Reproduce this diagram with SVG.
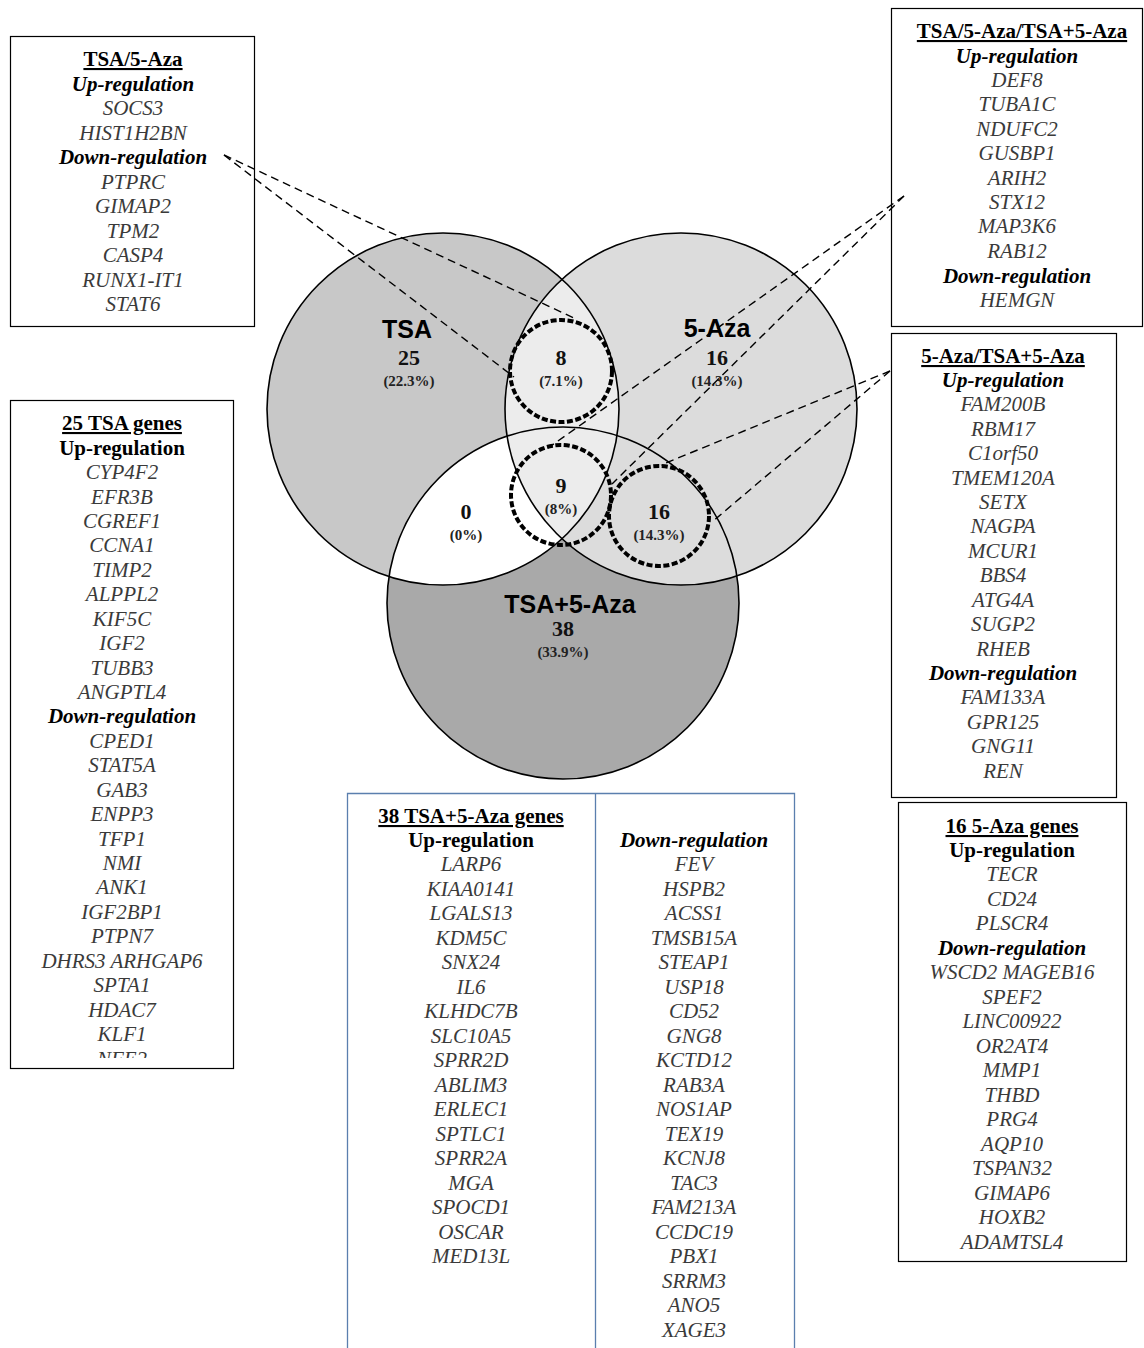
<svg xmlns="http://www.w3.org/2000/svg" width="1144" height="1348" viewBox="0 0 1144 1348">
<style>
.box{fill:#fff;stroke:#000;stroke-width:1.2}
.bbox{fill:none;stroke:#5b7fae;stroke-width:1.3}
.g{font-family:"Liberation Serif",serif;font-size:21px;font-style:italic;fill:#3a3a3a;text-anchor:middle}
.h{font-family:"Liberation Serif",serif;font-size:21px;font-style:italic;font-weight:bold;fill:#000;text-anchor:middle}
.hu{font-family:"Liberation Serif",serif;font-size:21px;font-weight:bold;fill:#000;text-anchor:middle}
.t{font-family:"Liberation Serif",serif;font-size:21px;font-weight:bold;fill:#000;text-anchor:middle;text-decoration:underline}
.vl{font-family:"Liberation Sans",Arial,sans-serif;font-size:25px;font-weight:bold;fill:#000;text-anchor:middle}
.vn{font-family:"Liberation Serif",serif;font-size:22px;font-weight:bold;fill:#111;text-anchor:middle}
.vp{font-family:"Liberation Serif",serif;font-size:15px;font-weight:bold;fill:#222;text-anchor:middle}
.ring{fill:none;stroke:#000;stroke-width:1.6}
.dc{fill:none;stroke:#000;stroke-width:4;stroke-dasharray:6 2.5}
.dl{stroke:#000;stroke-width:1.4;stroke-dasharray:8 5;fill:none}
</style>
<defs>
<clipPath id="cTSA"><circle cx="443" cy="409" r="176"/></clipPath>
<clipPath id="cAza"><circle cx="681" cy="409" r="176"/></clipPath>
<clipPath id="cNFE"><rect x="10" y="1040" width="224" height="18"/></clipPath>
</defs>
<rect width="1144" height="1348" fill="#fff"/>

<g id="venn">
<circle cx="443" cy="409" r="176" fill="#c8c8c8"/>
<circle cx="681" cy="409" r="176" fill="#dcdcdc"/>
<circle cx="563" cy="603" r="176" fill="#a9a9a9"/>
<circle cx="681" cy="409" r="176" fill="#ececec" clip-path="url(#cTSA)"/>
<circle cx="563" cy="603" r="176" fill="#ffffff" clip-path="url(#cTSA)"/>
<circle cx="563" cy="603" r="176" fill="#dcdcdc" clip-path="url(#cAza)"/>
<g clip-path="url(#cTSA)"><circle cx="563" cy="603" r="176" fill="#ececec" clip-path="url(#cAza)"/></g>
<circle class="ring" cx="443" cy="409" r="176"/>
<circle class="ring" cx="681" cy="409" r="176"/>
<circle class="ring" cx="563" cy="603" r="176"/>
</g>

<g id="set-TSA">
<text class="vl" x="407" y="338">TSA</text>
<text class="vn" x="409" y="365">25</text>
<text class="vp" x="409" y="386">(22.3%)</text>
</g>
<g id="set-5Aza">
<text class="vl" x="717" y="337">5-Aza</text>
<text class="vn" x="717" y="365">16</text>
<text class="vp" x="717" y="386">(14.3%)</text>
</g>
<g id="set-combo">
<text class="vl" x="570" y="613">TSA+5-Aza</text>
<text class="vn" x="563" y="636">38</text>
<text class="vp" x="563" y="657">(33.9%)</text>
</g>
<g id="region-TSA-5Aza">
<circle class="dc" cx="561" cy="371" r="51"/>
<text class="vn" x="561" y="365">8</text>
<text class="vp" x="561" y="386">(7.1%)</text>
</g>
<g id="region-all">
<circle class="dc" cx="561" cy="495" r="50"/>
<text class="vn" x="561" y="493">9</text>
<text class="vp" x="561" y="514">(8%)</text>
</g>
<g id="region-TSA-combo">
<text class="vn" x="466" y="519">0</text>
<text class="vp" x="466" y="540">(0%)</text>
</g>
<g id="region-5Aza-combo">
<circle class="dc" cx="659" cy="516" r="50"/>
<text class="vn" x="659" y="519">16</text>
<text class="vp" x="659" y="540">(14.3%)</text>
</g>

<g id="box-TSA-5Aza">
<rect class="box" x="10.5" y="36.5" width="244" height="290"/>
<text class="t" x="133" y="66">TSA/5-Aza</text>
<text class="h" x="133" y="91">Up-regulation</text>
<text class="g" x="133" y="115">SOCS3</text>
<text class="g" x="133" y="140">HIST1H2BN</text>
<text class="h" x="133" y="164">Down-regulation</text>
<text class="g" x="133" y="189">PTPRC</text>
<text class="g" x="133" y="213">GIMAP2</text>
<text class="g" x="133" y="238">TPM2</text>
<text class="g" x="133" y="262">CASP4</text>
<text class="g" x="133" y="287">RUNX1-IT1</text>
<text class="g" x="133" y="311">STAT6</text>
</g>

<g id="box-TSA-5Aza-combo">
<rect class="box" x="891.5" y="8.5" width="251" height="318"/>
<text class="t" x="1022" y="38">TSA/5-Aza/TSA+5-Aza</text>
<text class="h" x="1017" y="63">Up-regulation</text>
<text class="g" x="1017" y="87">DEF8</text>
<text class="g" x="1017" y="111">TUBA1C</text>
<text class="g" x="1017" y="136">NDUFC2</text>
<text class="g" x="1017" y="160">GUSBP1</text>
<text class="g" x="1017" y="185">ARIH2</text>
<text class="g" x="1017" y="209">STX12</text>
<text class="g" x="1017" y="233">MAP3K6</text>
<text class="g" x="1017" y="258">RAB12</text>
<text class="h" x="1017" y="283">Down-regulation</text>
<text class="g" x="1017" y="307">HEMGN</text>
</g>

<g id="box-5Aza-combo">
<rect class="box" x="891.5" y="333.5" width="225" height="464"/>
<text class="t" x="1003" y="363">5-Aza/TSA+5-Aza</text>
<text class="h" x="1003" y="387">Up-regulation</text>
<text class="g" x="1003" y="411">FAM200B</text>
<text class="g" x="1003" y="436">RBM17</text>
<text class="g" x="1003" y="460">C1orf50</text>
<text class="g" x="1003" y="485">TMEM120A</text>
<text class="g" x="1003" y="509">SETX</text>
<text class="g" x="1003" y="533">NAGPA</text>
<text class="g" x="1003" y="558">MCUR1</text>
<text class="g" x="1003" y="582">BBS4</text>
<text class="g" x="1003" y="607">ATG4A</text>
<text class="g" x="1003" y="631">SUGP2</text>
<text class="g" x="1003" y="656">RHEB</text>
<text class="h" x="1003" y="680">Down-regulation</text>
<text class="g" x="1003" y="704">FAM133A</text>
<text class="g" x="1003" y="729">GPR125</text>
<text class="g" x="1003" y="753">GNG11</text>
<text class="g" x="1003" y="778">REN</text>
</g>

<g id="box-TSA-genes">
<rect class="box" x="10.5" y="400.5" width="223" height="668"/>
<text class="t" x="122" y="430">25 TSA genes</text>
<text class="hu" x="122" y="455">Up-regulation</text>
<text class="g" x="122" y="479">CYP4F2</text>
<text class="g" x="122" y="504">EFR3B</text>
<text class="g" x="122" y="528">CGREF1</text>
<text class="g" x="122" y="552">CCNA1</text>
<text class="g" x="122" y="577">TIMP2</text>
<text class="g" x="122" y="601">ALPPL2</text>
<text class="g" x="122" y="626">KIF5C</text>
<text class="g" x="122" y="650">IGF2</text>
<text class="g" x="122" y="675">TUBB3</text>
<text class="g" x="122" y="699">ANGPTL4</text>
<text class="h" x="122" y="723">Down-regulation</text>
<text class="g" x="122" y="748">CPED1</text>
<text class="g" x="122" y="772">STAT5A</text>
<text class="g" x="122" y="797">GAB3</text>
<text class="g" x="122" y="821">ENPP3</text>
<text class="g" x="122" y="846">TFP1</text>
<text class="g" x="122" y="870">NMI</text>
<text class="g" x="122" y="894">ANK1</text>
<text class="g" x="122" y="919">IGF2BP1</text>
<text class="g" x="122" y="943">PTPN7</text>
<text class="g" x="122" y="968">DHRS3 ARHGAP6</text>
<text class="g" x="122" y="992">SPTA1</text>
<text class="g" x="122" y="1017">HDAC7</text>
<text class="g" x="122" y="1041">KLF1</text>
<text class="g" x="122" y="1066" clip-path="url(#cNFE)">NFE2</text>
</g>

<g id="box-combo-genes">
<path class="bbox" d="M347.5 1348 V793.5 H794.5 V1348 M595.5 793.5 V1348"/>
<text class="t" x="471" y="823">38 TSA+5-Aza genes</text>
<text class="hu" x="471" y="847">Up-regulation</text>
<text class="g" x="471" y="871">LARP6</text>
<text class="g" x="471" y="896">KIAA0141</text>
<text class="g" x="471" y="920">LGALS13</text>
<text class="g" x="471" y="945">KDM5C</text>
<text class="g" x="471" y="969">SNX24</text>
<text class="g" x="471" y="994">IL6</text>
<text class="g" x="471" y="1018">KLHDC7B</text>
<text class="g" x="471" y="1043">SLC10A5</text>
<text class="g" x="471" y="1067">SPRR2D</text>
<text class="g" x="471" y="1092">ABLIM3</text>
<text class="g" x="471" y="1116">ERLEC1</text>
<text class="g" x="471" y="1141">SPTLC1</text>
<text class="g" x="471" y="1165">SPRR2A</text>
<text class="g" x="471" y="1190">MGA</text>
<text class="g" x="471" y="1214">SPOCD1</text>
<text class="g" x="471" y="1239">OSCAR</text>
<text class="g" x="471" y="1263">MED13L</text>
<text class="h" x="694" y="847">Down-regulation</text>
<text class="g" x="694" y="871">FEV</text>
<text class="g" x="694" y="896">HSPB2</text>
<text class="g" x="694" y="920">ACSS1</text>
<text class="g" x="694" y="945">TMSB15A</text>
<text class="g" x="694" y="969">STEAP1</text>
<text class="g" x="694" y="994">USP18</text>
<text class="g" x="694" y="1018">CD52</text>
<text class="g" x="694" y="1043">GNG8</text>
<text class="g" x="694" y="1067">KCTD12</text>
<text class="g" x="694" y="1092">RAB3A</text>
<text class="g" x="694" y="1116">NOS1AP</text>
<text class="g" x="694" y="1141">TEX19</text>
<text class="g" x="694" y="1165">KCNJ8</text>
<text class="g" x="694" y="1190">TAC3</text>
<text class="g" x="694" y="1214">FAM213A</text>
<text class="g" x="694" y="1239">CCDC19</text>
<text class="g" x="694" y="1263">PBX1</text>
<text class="g" x="694" y="1288">SRRM3</text>
<text class="g" x="694" y="1312">ANO5</text>
<text class="g" x="694" y="1337">XAGE3</text>
</g>

<g id="box-5Aza-genes">
<rect class="box" x="898.5" y="802.5" width="228" height="459"/>
<text class="t" x="1012" y="833">16 5-Aza genes</text>
<text class="hu" x="1012" y="857">Up-regulation</text>
<text class="g" x="1012" y="881">TECR</text>
<text class="g" x="1012" y="906">CD24</text>
<text class="g" x="1012" y="930">PLSCR4</text>
<text class="h" x="1012" y="955">Down-regulation</text>
<text class="g" x="1012" y="979">WSCD2 MAGEB16</text>
<text class="g" x="1012" y="1004">SPEF2</text>
<text class="g" x="1012" y="1028">LINC00922</text>
<text class="g" x="1012" y="1053">OR2AT4</text>
<text class="g" x="1012" y="1077">MMP1</text>
<text class="g" x="1012" y="1102">THBD</text>
<text class="g" x="1012" y="1126">PRG4</text>
<text class="g" x="1012" y="1151">AQP10</text>
<text class="g" x="1012" y="1175">TSPAN32</text>
<text class="g" x="1012" y="1200">GIMAP6</text>
<text class="g" x="1012" y="1224">HOXB2</text>
<text class="g" x="1012" y="1249">ADAMTSL4</text>
</g>

<g id="connectors">
<line class="dl" x1="224" y1="155" x2="574" y2="318"/>
<line class="dl" x1="224" y1="155" x2="514" y2="377"/>
<line class="dl" x1="904" y1="196" x2="548" y2="448"/>
<line class="dl" x1="904" y1="196" x2="612" y2="484"/>
<line class="dl" x1="890" y1="371" x2="661" y2="465"/>
<line class="dl" x1="890" y1="371" x2="712" y2="522"/>
</g>
</svg>
